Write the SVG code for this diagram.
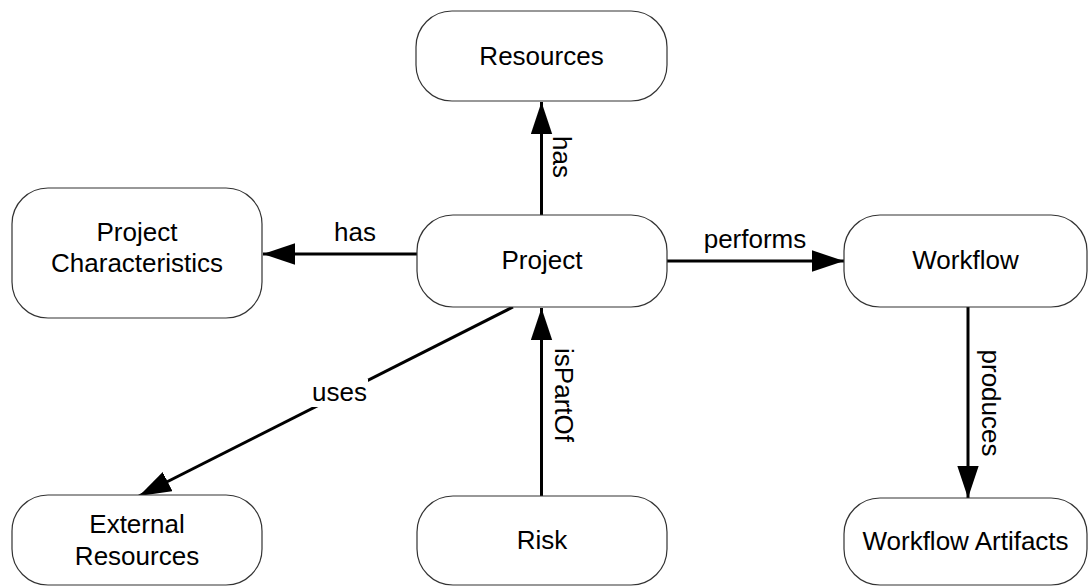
<svg xmlns="http://www.w3.org/2000/svg" width="1089" height="586" viewBox="0 0 1089 586">
<style>
.box{fill:#fff;stroke:#333;stroke-width:1.2}
.t{font-family:"Liberation Sans",Arial,sans-serif;font-size:26px;fill:#000;text-anchor:middle}
.e{fill:none;stroke:#000;stroke-width:3}
</style>
<defs>
<marker id="ah" markerUnits="userSpaceOnUse" markerWidth="32" markerHeight="22" viewBox="0 0 30 20" refX="30" refY="10" orient="auto">
<path d="M0,0 L30,10 L0,20 Z" fill="#000"/>
</marker>
</defs>
<rect width="1089" height="586" fill="#fff"/>
<g id="connectors">
<line class="e" x1="541.5" y1="215" x2="541.5" y2="102" marker-end="url(#ah)"/>
<text class="t" transform="translate(553,157) rotate(90)">has</text>
<line class="e" x1="417" y1="254" x2="263" y2="254" marker-end="url(#ah)"/>
<text class="t" x="355" y="241">has</text>
<line class="e" x1="667" y1="261" x2="844" y2="261" marker-end="url(#ah)"/>
<text class="t" x="755" y="248">performs</text>
<line class="e" x1="968" y1="307" x2="968" y2="498" marker-end="url(#ah)"/>
<text class="t" transform="translate(982,403) rotate(90)">produces</text>
<line class="e" x1="541.5" y1="496" x2="541.5" y2="308" marker-end="url(#ah)"/>
<text class="t" transform="translate(555,395) rotate(90)">isPartOf</text>
<line class="e" x1="513" y1="307" x2="139" y2="496" marker-end="url(#ah)"/>
<rect x="311" y="379" width="57" height="28" fill="#fff"/>
<text class="t" x="339.5" y="401">uses</text>
</g>
<g id="resources">
<rect class="box" x="416" y="11" width="251" height="90" rx="36" ry="36"/>
<text class="t" x="541.5" y="65">Resources</text>
</g>
<g id="project-characteristics">
<rect class="box" x="12" y="188" width="250" height="130" rx="36" ry="36"/>
<text class="t" x="137" y="241">Project</text>
<text class="t" x="137" y="272">Characteristics</text>
</g>
<g id="project">
<rect class="box" x="417" y="215" width="250" height="92" rx="36" ry="36"/>
<text class="t" x="542" y="269">Project</text>
</g>
<g id="workflow">
<rect class="box" x="844" y="215" width="243" height="92" rx="36" ry="36"/>
<text class="t" x="965.5" y="269">Workflow</text>
</g>
<g id="external-resources">
<rect class="box" x="12" y="495" width="250" height="90" rx="36" ry="36"/>
<text class="t" x="137" y="533">External</text>
<text class="t" x="137" y="565">Resources</text>
</g>
<g id="risk">
<rect class="box" x="417" y="496" width="250" height="89" rx="36" ry="36"/>
<text class="t" x="542" y="549">Risk</text>
</g>
<g id="workflow-artifacts">
<rect class="box" x="844" y="498" width="243" height="87" rx="36" ry="36"/>
<text class="t" x="965.5" y="550">Workflow Artifacts</text>
</g>
</svg>
